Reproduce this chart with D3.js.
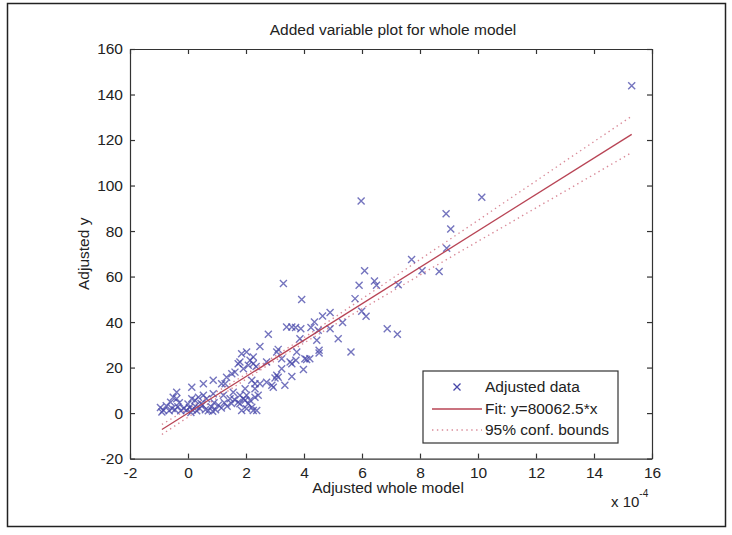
<!DOCTYPE html>
<html>
<head>
<meta charset="utf-8">
<script src="https://cdn.jsdelivr.net/npm/d3@7/dist/d3.min.js"></script>
<style>
    body { margin: 0; background: #fff; }
    text { font-family: "Liberation Sans", Arial, sans-serif; fill: #222; }
</style>
</head>
<body>
<div id="chart"></div>
<script>
// scatter points (x in units of 1e-4)
var pointX = [15.3, 10.13, 5.97, 8.9, 9.06, 8.92, 7.71, 8.07, 8.66, 7.25,
    6.09, 5.9, 6.43, 6.5, 3.29, 5.76, 3.92, 5.99, 6.14, 5.33,
    5.18, 5.62, 6.87, 7.22, 4.64, 4.9, 4.36, 4.9, 4.24, 4.49,
    3.4, 3.58, 3.71, 3.89, 3.86, 4.44, 4.52, 4.52, 2.77, 2.48,
    3.11, 3.06, 3.75, 4.03, 4.2, 4.09, 3.72, 3.58, 3.23, 3.98,
    3.23, 3.52, 2.71, 2.25, 3.58, 3.06, 3.11, 3.0, 2.71, 2.89,
    2.94, 3.34, 2.31, 2.31, 2.42, 2.25, 2.02, 2.25, 2.08, 1.91,
    1.79, 2.48, 2.2, 1.97, 2.02, 1.91, 2.31, 2.08, 1.79, 1.85,
    1.85, 2.14, 1.73, 1.62, 1.51, 2.35, 1.33, 1.28, 1.16, 0.87,
    0.53, 0.13, -0.39, -0.39, -0.51, 0.13, 0.87, 0.53, 1.22, 1.56,
    1.45, 1.79, 1.97, 2.14, 2.2, 1.73, 2.37, 2.02, -0.95, -0.85,
    -0.75, -0.65, -0.55, -0.45, -0.35, -0.25, -0.15, -0.05, 0.05, 0.15,
    0.25, 0.3, 0.4, 0.5, 0.6, 0.7, 0.8, 0.95, 1.05, 1.15,
    1.25, 1.35, 1.5, 1.6, 0.24, 0.36, 0.64, -0.3, 0.0, 0.45,
    0.9, -0.6, -0.9, 0.1, 0.85];
var pointY = [143.9, 94.8, 93.2, 87.6, 80.9, 72.4, 67.5, 62.5, 62.2, 56.4,
    62.5, 56.2, 58, 56.2, 57, 50.3, 49.9, 44.8, 42.6, 39.8,
    32.7, 26.8, 37.1, 34.6, 42.7, 44.2, 40, 37.1, 37.6, 36.4,
    37.8, 37.8, 37.6, 37.1, 32.7, 32, 27.6, 26.4, 34.6, 29.3,
    28, 26.8, 26.8, 23.9, 23.9, 23.6, 23.2, 21.7, 23.9, 19.2,
    19.5, 22.4, 22.4, 21.7, 16.1, 16.6, 15.8, 15.4, 13.6, 12.2,
    11.4, 12.2, 12.9, 10.7, 7.8, 1.1, 26.8, 24.6, 21, 19.5,
    22.4, 12.9, 14.4, 10.7, 7.8, 6.3, 7, 4.1, 4.1, 1.1,
    26.1, 23.2, 21.7, 18, 17.3, 20.5, 15.8, 12.9, 12.9, 14.4,
    12.9, 11.4, 9.2, 6.3, 7, 6.3, 8.5, 7.8, 7.8, 9.2,
    6.3, 7.8, 5.6, 5.6, 2.6, 4.8, 1.1, 1.9, 2.5, 1.2,
    3.2, 1.0, 2.0, 1.5, 2.8, 1.0, 2.0, 1.2, 2.5, 1.5,
    3.0, 1.0, 2.0, 3.5, 1.5, 1.0, 2.8, 1.5, 3.5, 2.2,
    4.5, 3.0, 4.2, 6.0, 5.6, 7, 6.3, 4.5, 4.0, 4.2,
    4.5, 4.8, 0.5, 0.3, 0.8];

// fitted line and 95% bounds
var fitX = [-0.9, 15.3];
var fitY = [-7.2, 122.5];
var boundX = [-0.9, 0, 1, 2, 3, 4, 5, 6, 7, 8, 9, 10, 11, 12, 13, 14, 15.3];
var upperY = [-5.0, 1.8, 9.4, 17.1, 25.0, 33.2, 41.6, 50.2, 58.8, 67.5, 76.1, 84.7, 93.4, 102.0, 110.7, 119.3, 130.5];
var lowerY = [-9.4, -1.8, 6.6, 14.9, 23.0, 30.8, 38.4, 45.8, 53.2, 60.7, 68.1, 75.5, 82.8, 90.2, 97.5, 104.9, 114.5];

var xTicks = [-2, 0, 2, 4, 6, 8, 10, 12, 14, 16];
var yTicks = [-20, 0, 20, 40, 60, 80, 100, 120, 140, 160];
var titleText = "Added variable plot for whole model";
var xLabel = "Adjusted whole model";
var yLabel = "Adjusted y";
var legendLabels = ["Adjusted data", "Fit: y=80062.5*x", "95% conf. bounds"];

var chartWidth = 732, chartHeight = 535;
var plotLeft = 130, plotRight = 652, plotTop = 49, plotBottom = 458.6;

var svg = d3.select("#chart").append("svg")
    .attr("width", chartWidth)
    .attr("height", chartHeight);

// outer frame of the picture
svg.append("rect")
    .attr("x", 7.5).attr("y", 3.5)
    .attr("width", 718).attr("height", 523)
    .attr("fill", "#fff")
    .attr("stroke", "#222")
    .attr("stroke-width", 1.5);

var x = d3.scaleLinear().domain([-2, 16]).range([plotLeft, plotRight]);
var y = d3.scaleLinear().domain([-20, 160]).range([plotBottom, plotTop]);

var dotColor = "#4646a8";
var fitColor = "#b84455";
var boundColor = "#d98a98";

var line = d3.line()
    .x(function (d) { return x(d[0]); })
    .y(function (d) { return y(d[1]); });

// bounds
[upperY, lowerY].forEach(function (vals) {
    svg.append("path")
        .attr("d", line(boundX.map(function (v, i) { return [v, vals[i]]; })))
        .attr("fill", "none")
        .attr("stroke", boundColor)
        .attr("stroke-width", 1.4)
        .attr("stroke-dasharray", "1.4,3.5");
});

// scatter x markers
var pts = pointX.map(function (v, i) { return [v, pointY[i]]; });
var s = 3.5;
function cross(px, py) {
    return "M" + (px - s) + "," + (py - s) + "L" + (px + s) + "," + (py + s) +
        "M" + (px - s) + "," + (py + s) + "L" + (px + s) + "," + (py - s);
}
svg.append("g").selectAll("path")
    .data(pts)
    .enter().append("path")
    .attr("d", function (d) { return cross(x(d[0]), y(d[1])); })
    .attr("stroke", dotColor)
    .attr("stroke-opacity", 0.75)
    .attr("stroke-width", 1.4)
    .attr("fill", "none");

// fit line
svg.append("path")
    .attr("d", line(fitX.map(function (v, i) { return [v, fitY[i]]; })))
    .attr("fill", "none")
    .attr("stroke", fitColor)
    .attr("stroke-width", 1.3);

// axes, ticks pointing inward like matlab
var axisColor = "#333";
var plain = function (d) { return String(d); };
var gx = svg.append("g").attr("transform", "translate(0," + plotBottom + ")")
    .call(d3.axisBottom(x).tickValues(xTicks).tickFormat(plain).tickSizeInner(-5).tickSizeOuter(0).tickPadding(8));
var gy = svg.append("g").attr("transform", "translate(" + plotLeft + ",0)")
    .call(d3.axisLeft(y).tickValues(yTicks).tickFormat(plain).tickSizeInner(-5).tickSizeOuter(0).tickPadding(7));
var gt = svg.append("g").attr("transform", "translate(0," + plotTop + ")")
    .call(d3.axisTop(x).tickValues(xTicks).tickSizeInner(-5).tickSizeOuter(0).tickFormat(""));
var gr = svg.append("g").attr("transform", "translate(" + plotRight + ",0)")
    .call(d3.axisRight(y).tickValues(yTicks).tickSizeInner(-5).tickSizeOuter(0).tickFormat(""));

[gx, gy, gt, gr].forEach(function (g) {
    g.select(".domain").attr("stroke", axisColor).attr("stroke-width", 1.2);
    g.selectAll(".tick line").attr("stroke", axisColor).attr("stroke-width", 1.2);
    g.selectAll(".tick text")
        .attr("font-family", "'Liberation Sans', Arial, sans-serif")
        .attr("font-size", 15.5)
        .attr("fill", "#2a2a2a");
});

// titles
svg.append("text")
    .attr("x", (plotLeft + plotRight) / 2 + 2).attr("y", 35)
    .attr("text-anchor", "middle")
    .attr("font-size", 15.5)
    .text(titleText);

svg.append("text")
    .attr("x", (plotLeft + plotRight) / 2 - 3).attr("y", 493)
    .attr("text-anchor", "middle")
    .attr("font-size", 15.5)
    .text(xLabel);

svg.append("text")
    .attr("transform", "translate(89," + ((plotTop + plotBottom) / 2) + ") rotate(-90)")
    .attr("text-anchor", "middle")
    .attr("font-size", 15.5)
    .text(yLabel);

// x 10^-4 exponent
var expo = svg.append("text")
    .attr("x", 611).attr("y", 507)
    .attr("font-size", 15);
expo.append("tspan").text("x 10");
expo.append("tspan").attr("dy", -10).attr("font-size", 10).text("-4");

// legend
var lg = svg.append("g").attr("transform", "translate(423,371)");
lg.append("rect")
    .attr("width", 195).attr("height", 72)
    .attr("fill", "#fff")
    .attr("stroke", "#333")
    .attr("stroke-width", 1.2);

var rowY = [16, 38, 59];
lg.append("path")
    .attr("d", cross(34, rowY[0]))
    .attr("stroke", dotColor)
    .attr("stroke-width", 1.3);
lg.append("line")
    .attr("x1", 9).attr("x2", 59).attr("y1", rowY[1]).attr("y2", rowY[1])
    .attr("stroke", fitColor).attr("stroke-width", 1.3);
lg.append("line")
    .attr("x1", 9).attr("x2", 59).attr("y1", rowY[2]).attr("y2", rowY[2])
    .attr("stroke", boundColor).attr("stroke-width", 1.4)
    .attr("stroke-dasharray", "1.4,3.5");

lg.selectAll("text.lab")
    .data(legendLabels)
    .enter().append("text")
    .attr("class", "lab")
    .attr("x", 62)
    .attr("y", function (d, i) { return rowY[i] + 5; })
    .attr("font-size", 15.5)
    .text(function (d) { return d; });
</script>
</body>
</html>
